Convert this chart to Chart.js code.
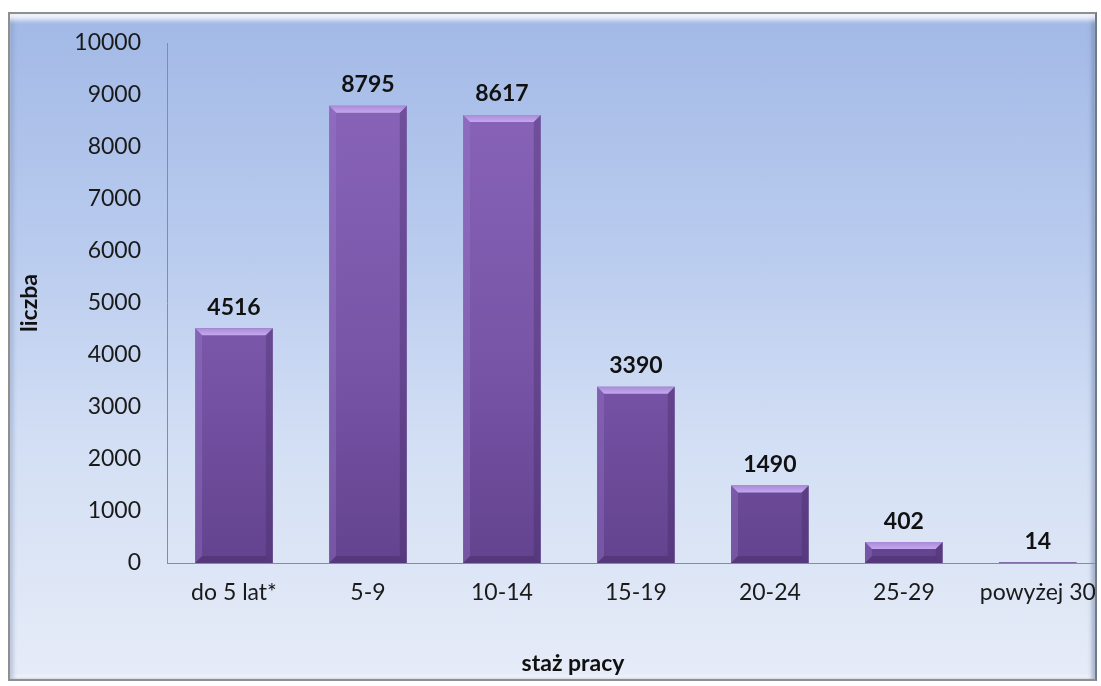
<!DOCTYPE html>
<html>
<head>
<meta charset="utf-8">
<script src="https://cdn.jsdelivr.net/npm/chart.js@4"></script>
<style>
    html, body { margin: 0; padding: 0; background: #fff; overflow: hidden; }
    #frame {
        position: absolute; left: 8px; top: 12px; width: 1085px; height: 665px;
        border: 2px solid #8f8f8f; border-right-color: #6f7a8c; overflow: hidden;
        background: linear-gradient(to bottom, #a2b9e6 0%, #b9cbee 35%, #d3dff4 65%, #e6ecf8 100%);
        box-shadow: inset 0 9px 5px -3px rgba(255,255,255,0.85), inset 4px 0 4px -1px rgba(120,140,180,0.45), inset -4px 0 4px -1px rgba(90,110,150,0.5), inset 0 -4px 3px -1px rgba(255,255,255,0.9);
    }
    #wrap { position: absolute; left: -10px; top: -14px; width: 1112px; height: 686px; }
</style>
</head>
<body>
<div id="frame"><div id="wrap"><canvas id="chart"></canvas></div></div>
<script>
(function () {
    'use strict';

    // data
    const categories = ['do 5 lat*', '5-9', '10-14', '15-19', '20-24', '25-29', 'powyżej 30'];
    const counts = [4516, 8795, 8617, 3390, 1490, 402, 14];
    const yTicks = [0, 1000, 2000, 3000, 4000, 5000, 6000, 7000, 8000, 9000, 10000];
    const yTitle = 'liczba';
    const xTitle = 'staż pracy';

    const FONT = 'Lato, "Open Sans", sans-serif';
    const FONT_SIZE = 23;

    // bar fill: vertical shading, purple
    function barFill(context) {
        const chart = context.chart;
        const area = chart.chartArea;
        if (!area) return '#7a58a8';
        const g = chart.ctx.createLinearGradient(0, area.top, 0, area.bottom);
        g.addColorStop(0, '#8b66bb');
        g.addColorStop(0.6, '#7955a8');
        g.addColorStop(1, '#63438f');
        return g;
    }

    // bevel highlights on top/edges of each bar
    const bevelPlugin = {
        id: 'bevel',
        afterDatasetsDraw(chart) {
            const ctx = chart.ctx;
            const meta = chart.getDatasetMeta(0);
            meta.data.forEach(bar => {
                const l = bar.x - bar.width / 2, r = bar.x + bar.width / 2;
                const t = bar.y, b = bar.base;
                const h = b - t;
                const bv = Math.min(7, h / 3);
                if (h < 2) return;
                ctx.save();
                // top bevel
                ctx.beginPath();
                ctx.moveTo(l, t); ctx.lineTo(r, t); ctx.lineTo(r - bv, t + bv); ctx.lineTo(l + bv, t + bv); ctx.closePath();
                const tg = ctx.createLinearGradient(0, t, 0, t + bv);
                tg.addColorStop(0, '#a98ad8');
                tg.addColorStop(1, '#c5a8f0');
                ctx.fillStyle = tg; ctx.fill();
                // left edge
                ctx.beginPath();
                ctx.moveTo(l, t); ctx.lineTo(l + bv, t + bv); ctx.lineTo(l + bv, b - bv); ctx.lineTo(l, b); ctx.closePath();
                ctx.fillStyle = 'rgba(160,130,210,0.3)'; ctx.fill();
                // right edge
                ctx.beginPath();
                ctx.moveTo(r, t); ctx.lineTo(r - bv, t + bv); ctx.lineTo(r - bv, b - bv); ctx.lineTo(r, b); ctx.closePath();
                ctx.fillStyle = 'rgba(60,35,90,0.3)'; ctx.fill();
                // bottom edge
                ctx.beginPath();
                ctx.moveTo(l, b); ctx.lineTo(l + bv, b - bv); ctx.lineTo(r - bv, b - bv); ctx.lineTo(r, b); ctx.closePath();
                ctx.fillStyle = 'rgba(60,35,90,0.35)'; ctx.fill();
                ctx.restore();
            });
        }
    };

    // value labels above bars + x axis title
    const labelPlugin = {
        id: 'valueLabels',
        afterDraw(chart) {
            const ctx = chart.ctx;
            const meta = chart.getDatasetMeta(0);
            ctx.save();
            ctx.font = 'bold ' + FONT_SIZE + 'px ' + FONT;
            ctx.fillStyle = '#111';
            ctx.textAlign = 'center';
            ctx.textBaseline = 'middle';
            meta.data.forEach((bar, i) => {
                ctx.fillText(String(counts[i]), bar.x, bar.y - 21);
            });
            ctx.fillText(xTitle, 573, 664);
            ctx.restore();
        }
    };

    const ctx = document.getElementById('chart').getContext('2d');
    new Chart(ctx, {
        type: 'bar',
        data: {
            labels: categories,
            datasets: [{
                data: counts,
                backgroundColor: barFill,
                borderWidth: 0,
                barPercentage: 0.58,
                categoryPercentage: 1
            }]
        },
        options: {
            responsive: true,
            maintainAspectRatio: false,
            animation: false,
            layout: { padding: { top: 43, left: 0, right: 2, bottom: 0 } },
            plugins: {
                legend: { display: false },
                tooltip: { enabled: false }
            },
            scales: {
                x: {
                    grid: { display: false, drawTicks: false },
                    border: { display: true, color: '#8c8c8c', width: 1 },
                    ticks: {
                        color: '#1a1a1a',
                        font: { family: FONT, size: FONT_SIZE },
                        padding: 16,
                        maxRotation: 0,
                        autoSkip: false
                    },
                    afterFit(scale) { scale.height = 123; }
                },
                y: {
                    min: 0,
                    max: 10000,
                    afterBuildTicks(scale) { scale.ticks = yTicks.map(v => ({ value: v })); },
                    grid: { display: false, drawTicks: false },
                    border: { display: true, color: '#8c8c8c', width: 1 },
                    ticks: {
                        color: '#1a1a1a',
                        font: { family: FONT, size: FONT_SIZE },
                        padding: 26,
                        callback: v => String(v)
                    },
                    title: {
                        display: true,
                        text: yTitle,
                        color: '#111',
                        font: { family: FONT, size: FONT_SIZE, weight: 'bold' },
                        padding: { top: 16, bottom: 0 }
                    },
                    afterFit(scale) { scale.width = 167; }
                }
            }
        },
        plugins: [bevelPlugin, labelPlugin]
    });
})();
</script>
</body>
</html>
